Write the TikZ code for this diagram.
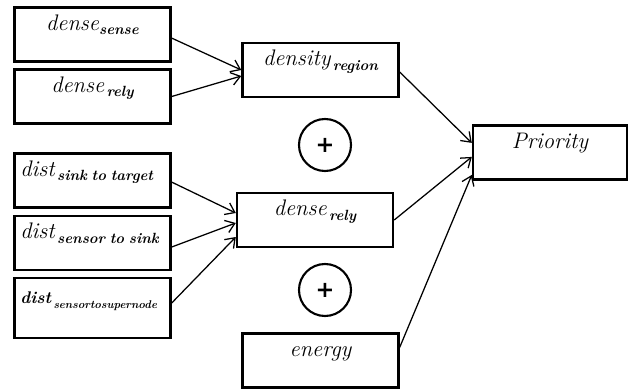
\documentclass[tikz,border=0pt]{standalone}
\usepackage{xcolor}
\usepackage{fontspec}
\usepackage{tikz}
\usetikzlibrary{arrows.meta}

\newfontfamily\plusfont{DejaVu Sans}
\newcommand{\bigtxt}[1]{{\fontsize{16}{19}\selectfont\itshape #1}}
\newcommand{\lowtxt}[1]{\raisebox{-0.7ex}{\fontsize{10.5}{12}\selectfont\bfseries\itshape #1}}

\tikzset{
  box/.style={draw, line width=1.7pt, minimum width=3.9cm, minimum height=1.35cm,
    inner sep=0pt, text height=0.3cm, text depth=0.5cm},
  plus/.style={draw, circle, line width=1.5pt, minimum size=1.3cm, inner sep=0pt},
  link/.style={line width=0.9pt, -{Straight Barb[length=2.2mm,width=3.2mm]}}
}

\begin{document}
\begin{tikzpicture}[x=0.025cm, y=-0.025cm]
  \useasboundingbox (0,0) rectangle (629,392);
  \node[box] (sense) at (92.5,34.5) {\bigtxt{dense}\lowtxt{sense}};
  \node[box] (relyin) at (92.5,96.5) {\bigtxt{dense}\,\lowtxt{rely}};
  \node[box] (region) at (320.5,70) {\bigtxt{density}\,\lowtxt{region}};
  \node[box, text width=3.6cm] (sinktarget) at (92.5,180.5) {\bigtxt{dist}\,\lowtxt{sink to target}};
  \node[box, text width=3.6cm] (sensorsink) at (92.5,243) {\bigtxt{dist}\,\lowtxt{sensor to sink}};
  \node[box, text width=3.6cm, minimum height=1.5cm] (sensorsuper) at (92.5,308)
    {{\fontsize{12}{14}\selectfont\bfseries\itshape dist}\,\raisebox{-0.7ex}{\fontsize{8}{9}\selectfont\bfseries\itshape sensortosupernode}};
  \node[box] (rely) at (315,220) {\bigtxt{dense}\,\lowtxt{rely}};
  \node[box] (energy) at (320.5,360.5) {\bigtxt{energy}};
  \node[box, minimum width=3.85cm] (priority) at (550,152.5) {\bigtxt{Priority}};
  \node[plus] (plusa) at (325,145) {\fontsize{16}{18}\selectfont\plusfont\bfseries +};
  \node[plus] (plusb) at (325,290) {\fontsize{16}{18}\selectfont\plusfont\bfseries +};

  \draw[link] ([yshift=-0.09cm]sense.east) -- (region.west);
  \draw[link] (relyin.east) -- ([yshift=-0.15cm]region.west);
  \draw[link] ([yshift=-0.04cm]sinktarget.east) -- ([yshift=0.175cm]rely.west);
  \draw[link] ([yshift=-0.1cm]sensorsink.east) -- ([yshift=-0.075cm]rely.west);
  \draw[link] ([yshift=0.125cm]sensorsuper.east) -- ([yshift=-0.425cm]rely.west);
  \draw[link] ([yshift=-0.05cm]region.east) -- ([yshift=0.24cm]priority.west);
  \draw[link] (rely.east) -- ([yshift=-0.11cm]priority.west);
  \draw[link] ([yshift=0.33cm]energy.east) -- ([yshift=-0.56cm]priority.west);
\end{tikzpicture}
\end{document}
